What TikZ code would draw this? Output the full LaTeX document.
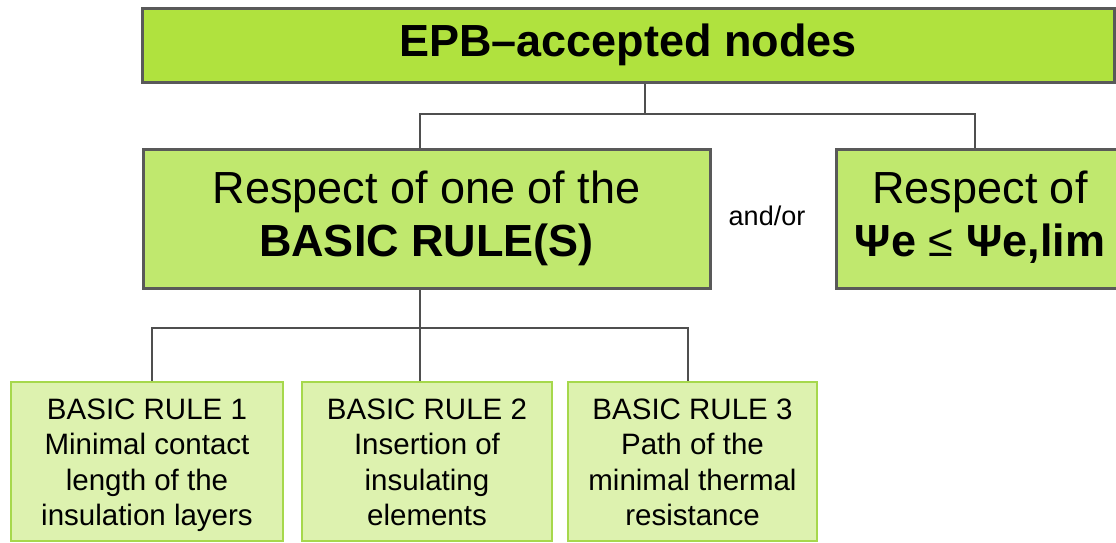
\documentclass[tikz,border=0pt]{standalone}
\usepackage{fontspec}
\setmainfont{Liberation Sans}
\usetikzlibrary{calc}
\definecolor{topfill}{HTML}{B0E23E}
\definecolor{midfill}{HTML}{C0E86E}
\definecolor{lowfill}{HTML}{DDF2AF}
\definecolor{lowedge}{HTML}{A6D84C}
\definecolor{darkedge}{HTML}{595959}
\definecolor{connc}{HTML}{4F4F4F}
\newcommand{\toppad}{\rule{0pt}{33pt}}
\tikzset{
  topbox/.style={draw=darkedge, line width=3pt, fill=topfill, minimum width=972pt, minimum height=74pt, inner sep=0pt,
    font=\fontsize{45}{53}\selectfont\bfseries},
  midbox/.style={draw=darkedge, line width=3pt, fill=midfill, minimum height=139pt, inner sep=0pt, align=center,
    font=\fontsize{45}{53}\selectfont},
  lowbox/.style={draw=lowedge, line width=2.2pt, fill=lowfill, minimum height=159pt, inner sep=0pt, align=center,
    font=\fontsize{29.5}{35.5}\selectfont},
  conn/.style={draw=connc, line width=2.6pt},
  lbl/.style={font=\fontsize{27}{32}\selectfont, inner sep=0pt}
}
\begin{document}
\begin{tikzpicture}[x=1pt,y=-1pt]
\useasboundingbox (0,0) rectangle (1116,542);
\clip (0,0) rectangle (1116,542);
\node[topbox] (top) at (628,45) {EPB–accepted nodes};
\node[midbox, minimum width=567pt] (mid) at (426.5,219) {Respect of one of the\strut\\\textbf{BASIC RULE(S)}\strut};
\node[midbox, minimum width=288pt] (right) at (980,219) {Respect of\strut\\\textbf{Ψe} ≤ \textbf{Ψe,lim}\strut};
\node[lbl] (andor) at (767,216) {and/or};
\node[lowbox, minimum width=272pt] (b1) at (147,461.5) {\toppad BASIC RULE 1\\Minimal contact\\length of the\\insulation layers\strut};
\node[lowbox, minimum width=250pt] (b2) at (427,461.5) {\toppad BASIC RULE 2\\Insertion of\\insulating\\elements\strut};
\node[lowbox, minimum width=249pt] (b3) at (692.5,461.5) {\toppad BASIC RULE 3\\Path of the\\minimal thermal\\resistance\strut};
\coordinate (j1) at (645,114);
\coordinate (j2) at (420,328);
\draw[conn] (top.south -| j1) -- (j1);
\draw[conn] ($(mid.north)+(-6.5,0)$) |- (j1) -| ($(right.north)+(-5,0)$);
\draw[conn] ($(mid.south)+(-6.5,0)$) -- (j2);
\draw[conn] ($(b1.north)+(5,0)$) |- (j2) -| ($(b3.north)+(-4.5,0)$);
\draw[conn] (j2) -- (b2.north -| j2);
\end{tikzpicture}
\end{document}
